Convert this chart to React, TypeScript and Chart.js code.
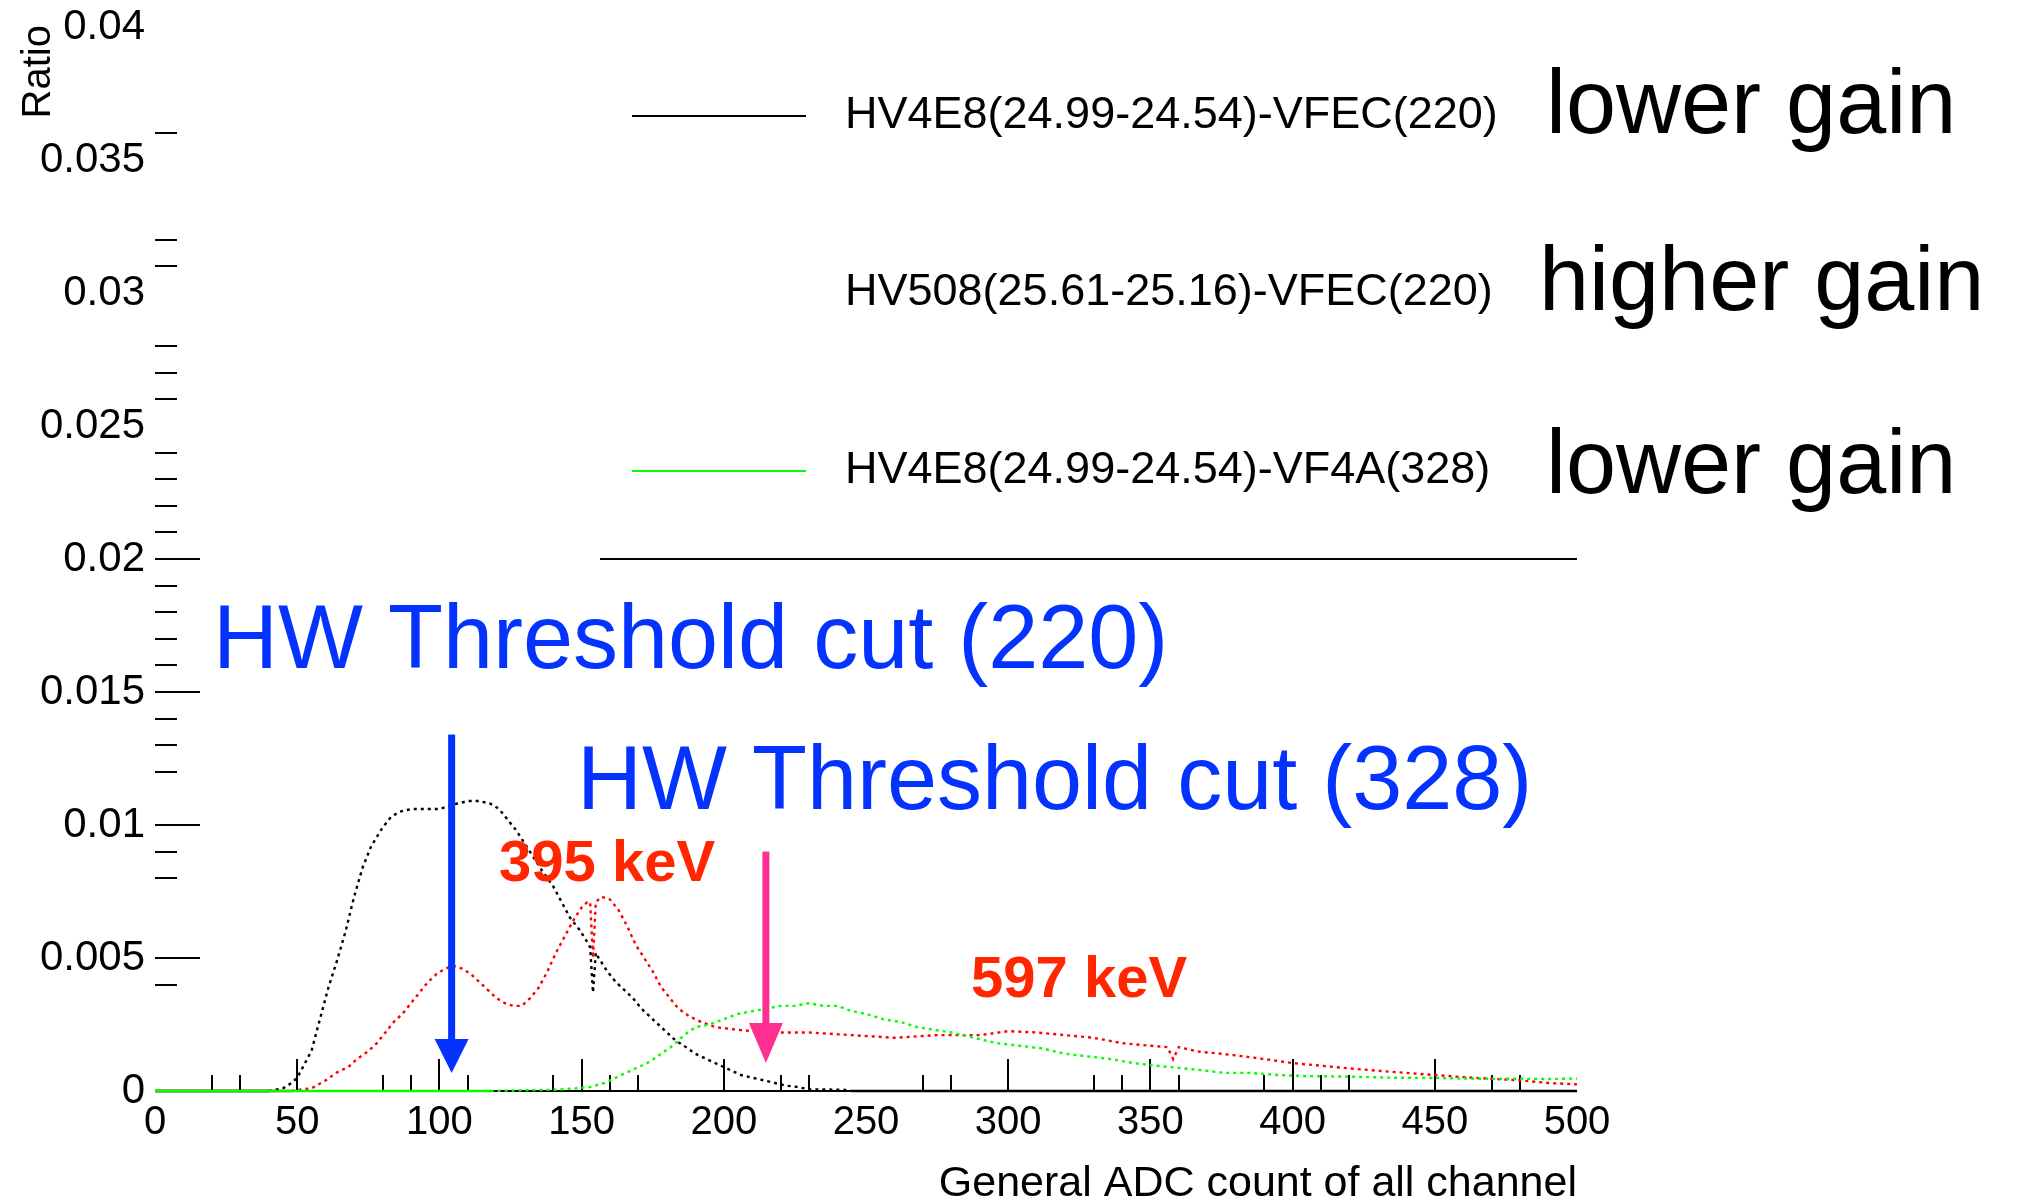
import React, { useEffect, useRef } from 'react';
import { Chart, registerables } from 'chart.js';

Chart.register(...registerables);

// ---- data: ADC count (x) and ratio (y) for each run ----
const blackAdc = [0, 40, 45, 48, 50, 52, 55, 58, 61, 64, 67, 70, 73, 76, 80, 83, 86, 90, 95, 100, 103, 106, 110, 114, 118, 121, 124, 127, 130, 133, 136, 140, 143, 146, 149, 152, 153, 154, 155, 156, 159, 162, 165, 168, 171, 174, 177, 180, 183, 186, 190, 194, 198, 202, 206, 210, 214, 218, 222, 226, 230, 242, 245, 500];
const blackRatio = [0, 0, 0.0001, 0.0003, 0.0005, 0.0009, 0.0015, 0.0027, 0.0039, 0.0049, 0.006, 0.0073, 0.0084, 0.0092, 0.0099, 0.0103, 0.0105, 0.0106, 0.0106, 0.0106, 0.0107, 0.0108, 0.0109, 0.0109, 0.0108, 0.0106, 0.0102, 0.0098, 0.0093, 0.0088, 0.0083, 0.0077, 0.0071, 0.0065, 0.0061, 0.0056, 0.0054, 0.0037, 0.0052, 0.005, 0.0045, 0.0041, 0.0038, 0.0035, 0.0031, 0.0028, 0.0025, 0.0022, 0.0019, 0.0017, 0.0014, 0.0012, 0.001, 0.0008, 0.0006, 0.0005, 0.0004, 0.0003, 0.0002, 0.00015, 0.00006, 0.00005, 0, 0];

const redAdc = [0, 48, 51, 55, 60, 64, 68, 71, 75, 78, 81, 84, 87, 90, 93, 96, 99, 102, 105, 108, 111, 114, 117, 120, 123, 126, 129, 132, 135, 138, 141, 144, 147, 150, 152, 153, 154, 155, 157, 160, 163, 166, 169, 172, 175, 178, 181, 184, 188, 192, 197, 205, 215, 230, 245, 260, 275, 290, 300, 310, 320, 330, 340, 350, 356, 358, 360, 367, 375, 383, 390, 400, 410, 420, 430, 440, 450, 460, 470, 480, 490, 500];
const redRatio = [0, 0, 0.00005, 0.0001, 0.0004, 0.0007, 0.0009, 0.0012, 0.0015, 0.0018, 0.0022, 0.0026, 0.0029, 0.0033, 0.0037, 0.0041, 0.0044, 0.0046, 0.0047, 0.0046, 0.0044, 0.0041, 0.0038, 0.0035, 0.0033, 0.0032, 0.0032, 0.0035, 0.0039, 0.0045, 0.0052, 0.0058, 0.0064, 0.0069, 0.0071, 0.0071, 0.005, 0.0071, 0.0073, 0.0072, 0.0068, 0.0062, 0.0055, 0.005, 0.0045, 0.0039, 0.0035, 0.0031, 0.0028, 0.0026, 0.0024, 0.0023, 0.0022, 0.0022, 0.0021, 0.002, 0.0021, 0.0021, 0.00225, 0.0022, 0.0021, 0.002, 0.0018, 0.0017, 0.00165, 0.0012, 0.00165, 0.00148, 0.0014, 0.0013, 0.0012, 0.00105, 0.00095, 0.00085, 0.00076, 0.00068, 0.0006, 0.00052, 0.00046, 0.0004, 0.0003, 0.00025];

const greenAdc = [0, 118, 130, 142, 148, 153, 158, 162, 166, 170, 174, 178, 182, 186, 190, 195, 200, 205, 210, 215, 220, 225, 230, 235, 240, 245, 250, 256, 262, 268, 274, 280, 288, 296, 304, 312, 320, 328, 336, 344, 352, 360, 368, 376, 385, 395, 405, 420, 435, 450, 465, 480, 490, 500];
const greenRatio = [0, 0, 0.00003, 0.00005, 0.0001, 0.00015, 0.0003, 0.0005, 0.0007, 0.0009, 0.0011, 0.0014, 0.0017, 0.0021, 0.0024, 0.0025, 0.0027, 0.0029, 0.003, 0.0031, 0.0032, 0.0032, 0.0033, 0.0032, 0.0032, 0.003, 0.0029, 0.0027, 0.0026, 0.0024, 0.0023, 0.0022, 0.002, 0.0018, 0.0017, 0.0016, 0.0014, 0.0013, 0.0012, 0.00105, 0.00095, 0.00087, 0.00078, 0.00068, 0.00068, 0.0006, 0.00056, 0.00054, 0.0005, 0.00049, 0.00046, 0.00046, 0.00045, 0.00047];

const seriesLabels = [
  'HV4E8(24.99-24.54)-VFEC(220)',
  'HV508(25.61-25.16)-VFEC(220)',
  'HV4E8(24.99-24.54)-VF4A(328)',
];
const gainNotes = ['lower gain', 'higher gain', 'lower gain'];

// axis labels and the tick marks that are drawn on each axis
const xTickValues = [0, 50, 100, 150, 200, 250, 300, 350, 400, 450, 500];
const xMajorTicks = [50, 100, 150, 200, 300, 350, 400, 450];
const xMinorTicks = [20, 30, 80, 90, 110, 140, 160, 170, 220, 230, 270, 280, 330, 340, 360, 390, 410, 420, 470, 480];
const yTickValues = [0, 0.005, 0.01, 0.015, 0.02, 0.025, 0.03, 0.035, 0.04];
const yTickLabels = ['0', '0.005', '0.01', '0.015', '0.02', '0.025', '0.03', '0.035', '0.04'];
const yMajorTicks = [0.005, 0.01, 0.015, 0.02];
const yMinorTicks = [0.004, 0.008, 0.009, 0.012, 0.013, 0.014, 0.016, 0.017, 0.018, 0.019, 0.021, 0.022, 0.023, 0.024, 0.026, 0.027, 0.028, 0.031, 0.032, 0.036];

// threshold cuts: ADC position, arrow top and arrow tip (ratio units)
const cut220 = { adc: 104.3, top: 0.0134, tip: 0.00068 };
const cut328 = { adc: 214.8, top: 0.0090, tip: 0.00105 };

const FONT = '"Liberation Sans", Arial, Helvetica, sans-serif';

function toPoints(xs: number[], ys: number[]) {
  return xs.map((x, i) => ({ x, y: ys[i] }));
}

// dotted look for the histograms, solid where the curve sits on zero
const dashed = (c: any) => (c.p0.parsed.y === 0 && c.p1.parsed.y === 0 ? [] : [3, 4]);

const framePlugin = {
  id: 'rootFrame',
  beforeDatasetsDraw(chart: any) {
    const { ctx } = chart;
    const x = chart.scales.x;
    const y = chart.scales.y;
    const y0 = y.getPixelForValue(0);
    ctx.save();
    ctx.strokeStyle = '#000';
    ctx.lineWidth = 2;
    ctx.lineCap = 'butt';

    // x axis line
    ctx.beginPath();
    ctx.moveTo(x.left, y0);
    ctx.lineTo(x.right, y0);
    ctx.stroke();

    // x ticks point up into the frame
    const xTick = (v: number, len: number) => {
      const px = Math.round(x.getPixelForValue(v));
      ctx.beginPath();
      ctx.moveTo(px, y0);
      ctx.lineTo(px, y0 - len);
      ctx.stroke();
    };
    xMajorTicks.forEach((v) => xTick(v, 32));
    xMinorTicks.forEach((v) => xTick(v, 16));

    // y ticks point right into the frame
    const yTick = (v: number, len: number) => {
      const py = Math.round(y.getPixelForValue(v));
      ctx.beginPath();
      ctx.moveTo(x.left, py);
      ctx.lineTo(x.left + len, py);
      ctx.stroke();
    };
    yMajorTicks.forEach((v) => yTick(v, 45));
    yMinorTicks.forEach((v) => yTick(v, 22));

    // tick labels
    ctx.fillStyle = '#000';
    ctx.font = `42px ${FONT}`;
    ctx.textAlign = 'right';
    ctx.textBaseline = 'middle';
    yTickValues.forEach((v, i) => {
      ctx.fillText(yTickLabels[i], x.left - 10, y.getPixelForValue(v));
    });
    ctx.font = `40px ${FONT}`;
    ctx.textAlign = 'center';
    ctx.textBaseline = 'top';
    xTickValues.forEach((v) => {
      ctx.fillText(String(v), x.getPixelForValue(v), y0 + 12);
    });

    // axis titles (right/top aligned)
    ctx.font = `43px ${FONT}`;
    ctx.textAlign = 'right';
    ctx.textBaseline = 'alphabetic';
    ctx.fillText('General ADC count of all channel', x.right, y0 + 105);
    ctx.save();
    ctx.translate(50, y.top - 2);
    ctx.rotate(-Math.PI / 2);
    ctx.font = `40px ${FONT}`;
    ctx.textAlign = 'right';
    ctx.fillText('Ratio', 0, 0);
    ctx.restore();

    ctx.restore();
  },
};

function drawArrow(ctx: any, px: number, top: number, tip: number, color: string, shaft: number, headW: number, headH: number) {
  ctx.save();
  ctx.fillStyle = color;
  ctx.fillRect(px - shaft / 2, top, shaft, tip - headH - top + 1);
  ctx.beginPath();
  ctx.moveTo(px - headW / 2, tip - headH);
  ctx.lineTo(px + headW / 2, tip - headH);
  ctx.lineTo(px, tip);
  ctx.closePath();
  ctx.fill();
  ctx.restore();
}

const notesPlugin = {
  id: 'slideNotes',
  afterDatasetsDraw(chart: any) {
    const { ctx } = chart;
    const x = chart.scales.x;
    const y = chart.scales.y;
    ctx.save();

    // legend
    const rows = [116, 293, 471];
    const samples = ['#000000', null, '#00ff00'];
    ctx.font = `45px ${FONT}`;
    ctx.textBaseline = 'middle';
    ctx.textAlign = 'left';
    rows.forEach((ry, i) => {
      const sample = samples[i];
      if (sample) {
        ctx.strokeStyle = sample;
        ctx.lineWidth = 2;
        ctx.beginPath();
        ctx.moveTo(632, ry);
        ctx.lineTo(806, ry);
        ctx.stroke();
      }
      ctx.fillStyle = '#000';
      ctx.fillText(chart.data.datasets[i].label, 845, ry);
    });
    // legend box edge
    ctx.strokeStyle = '#000';
    ctx.lineWidth = 2;
    ctx.beginPath();
    ctx.moveTo(600, 559);
    ctx.lineTo(x.right, 559);
    ctx.stroke();

    // gain notes
    ctx.font = `90px ${FONT}`;
    ctx.textBaseline = 'alphabetic';
    ctx.fillStyle = '#000';
    ctx.fillText(gainNotes[0], 1546, 133);
    ctx.fillText(gainNotes[1], 1539, 310);
    ctx.fillText(gainNotes[2], 1546, 493);

    // threshold labels
    ctx.fillStyle = '#0433ff';
    ctx.fillText('HW Threshold cut (220)', 213, 668);
    ctx.fillText('HW Threshold cut (328)', 577, 809);

    // peak energies
    ctx.fillStyle = '#ff2600';
    ctx.font = `bold 58px ${FONT}`;
    ctx.fillText('395 keV', 499, 881);
    ctx.fillText('597 keV', 971, 997);

    // threshold arrows
    drawArrow(ctx, x.getPixelForValue(cut220.adc), y.getPixelForValue(cut220.top), y.getPixelForValue(cut220.tip), '#0433ff', 7, 34, 34);
    drawArrow(ctx, x.getPixelForValue(cut328.adc), y.getPixelForValue(cut328.top), y.getPixelForValue(cut328.tip), '#ff2f92', 7, 34, 40);

    ctx.restore();
  },
};

export default function App() {
  const canvasRef = useRef<HTMLCanvasElement | null>(null);

  useEffect(() => {
    const canvas = canvasRef.current;
    if (!canvas) return;
    const lineBase = {
      borderWidth: 2.4,
      borderDash: [3, 4],
      pointRadius: 0,
      tension: 0,
      fill: false,
      clip: false as const,
      segment: { borderDash: dashed },
    };
    const chart = new Chart(canvas, {
      type: 'line',
      data: {
        datasets: [
          { ...lineBase, label: seriesLabels[0], data: toPoints(blackAdc, blackRatio), borderColor: '#000000', order: 1 },
          { ...lineBase, label: seriesLabels[1], data: toPoints(redAdc, redRatio), borderColor: '#ff0000', order: 2 },
          { ...lineBase, label: seriesLabels[2], data: toPoints(greenAdc, greenRatio), borderColor: '#00ff00', order: 0 },
        ],
      },
      options: {
        responsive: false,
        animation: false,
        devicePixelRatio: 1,
        layout: { padding: { left: 155, right: 446, top: 27, bottom: 112 } },
        scales: {
          x: { type: 'linear', min: 0, max: 500, display: false },
          y: { type: 'linear', min: 0, max: 0.04, display: false },
        },
        plugins: {
          legend: { display: false },
          tooltip: { enabled: false },
        },
      },
      plugins: [framePlugin, notesPlugin],
    } as any);
    return () => chart.destroy();
  }, []);

  return (
    <div style={{ position: 'fixed', left: 0, top: 0, width: 2023, height: 1203, background: '#ffffff' }}>
      <canvas ref={canvasRef} width={2023} height={1203} style={{ display: 'block' }} />
    </div>
  );
}
